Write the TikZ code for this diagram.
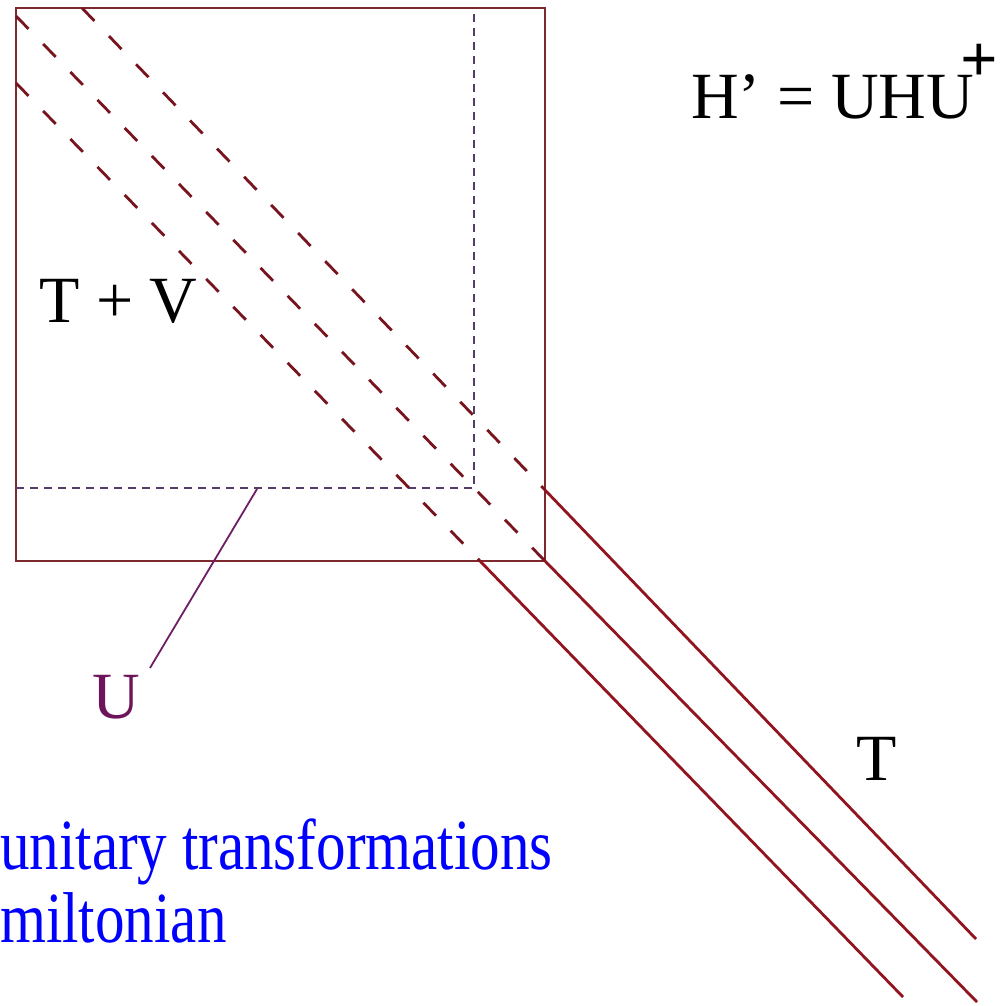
\documentclass[tikz,border=0pt]{standalone}
\usepackage{fontspec}
\setmainfont{Liberation Serif}
\begin{document}
\begin{tikzpicture}[x=1pt,y=-1pt,
  boxline/.style={draw={rgb,255:red,125;green,40;blue,45}, line width=1.6pt},
  subline/.style={draw={rgb,255:red,85;green,60;blue,105}, line width=1.4pt, dash pattern=on 8pt off 6pt},
  diagdash/.style={draw={rgb,255:red,120;green,20;blue,30}, line width=2.8pt, dash pattern=on 18pt off 21pt},
  diagsolid/.style={draw={rgb,255:red,145;green,20;blue,30}, line width=2.8pt},
  lab/.style={inner sep=0pt, anchor=base west, font=\fontsize{66}{70}\selectfont},
  bluetxt/.style={inner sep=0pt, anchor=base west, text={rgb,255:red,0;green,0;blue,255}, font=\fontsize{72}{76}\selectfont, xscale=0.82, transform shape},
  ulink/.style={draw={rgb,255:red,110;green,30;blue,100}, line width=1.8pt}]
\useasboundingbox (0,0) rectangle (999,1006);
\fill[white] (0,0) rectangle (999,1006);
% outer box
\draw[boxline] (16,8) rectangle (545,561);
% inner dashed sub-block
\coordinate (vtop) at (474,14);
\coordinate (corner) at (474,488);
\coordinate (hleft) at (16,488);
\draw[subline] (vtop) -- (corner) -- (hleft);
% diagonal bands
\coordinate (a1) at (82,8);   \coordinate (a2) at (545,490); \coordinate (a3) at (976,939);
\coordinate (b1) at (16,16);  \coordinate (b2) at (545,561); \coordinate (b3) at (977,1002);
\coordinate (c1) at (16,83);  \coordinate (c2) at (480,561); \coordinate (c3) at (903,997);
\draw[diagdash] (a1) -- (a2);
\draw[diagdash] (b1) -- (b2);
\draw[diagdash] (c1) -- (c2);
\draw[diagsolid] (a2) -- (a3);
\draw[diagsolid] (b2) -- (b3);
\draw[diagsolid] (c2) -- (c3);
% labels
\node[lab] (tv) at (39,322) {T + V};
\node[lab] (hp) at (691,118) {H’ = UHU\kern-0.2em\raisebox{0.56em}{\textbf{+}}};
\node[lab] (t) at (856,780) {T};
\node[lab, text={rgb,255:red,110;green,20;blue,90}] (u) at (92,718) {U};
\coordinate (ustart) at (150,668);
\coordinate (uend) at (257,489);
\draw[ulink] (ustart) -- (uend);
\node[bluetxt] (l1) at (0,869) {unitary transformations};
\node[bluetxt] (l2) at (0,942) {miltonian};
\end{tikzpicture}
\end{document}
